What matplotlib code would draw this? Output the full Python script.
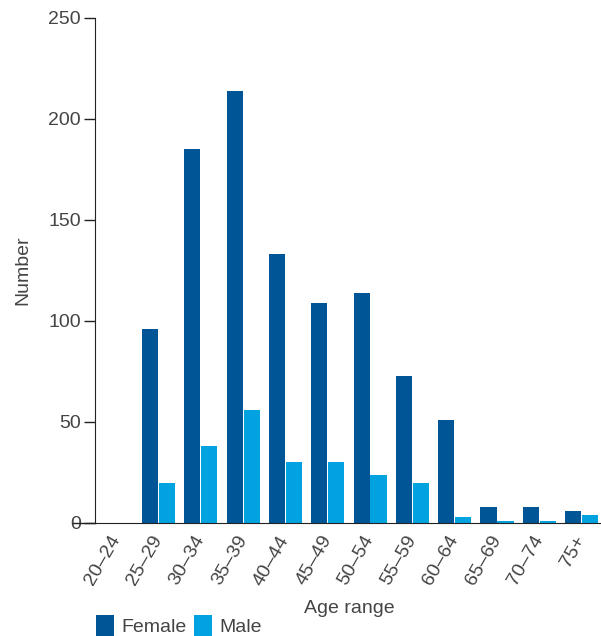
import numpy as np
import matplotlib
matplotlib.use("Agg")
import matplotlib.pyplot as plt

plt.rcParams['font.family'] = ['Liberation Sans', 'DejaVu Sans']

age_ranges = ['20–24', '25–29', '30–34', '35–39', '40–44', '45–49',
              '50–54', '55–59', '60–64', '65–69', '70–74', '75+']
female = [0, 96, 185, 214, 133, 109, 114, 73, 51, 8, 8, 6]
male = [0, 20, 38, 56, 30, 30, 24, 20, 3, 1, 1, 4]

female_color = '#005596'
male_color = '#00a3e0'
text_color = '#444444'
fs = 14

fig = plt.figure(figsize=(6.01, 6.36), dpi=100)
ax = fig.add_axes([0.158, 0.1777, 0.845, 0.794])

x = np.arange(len(age_ranges))
w = 0.38
ax.bar(x - w / 2 - 0.01, female, width=w, color=female_color, label='Female')
ax.bar(x + w / 2 + 0.01, male, width=w, color=male_color, label='Male')

ax.set_xlim(-0.5, 11.5)
ax.set_ylim(0, 250)
ax.set_yticks(range(0, 251, 50))
ax.set_xticks(x)
ax.set_xticklabels(age_ranges, rotation=60, ha='right', va='center',
                   rotation_mode='anchor', fontsize=fs, color=text_color)
ax.tick_params(axis='x', length=0, pad=10)
ax.tick_params(axis='y', length=8, width=1, colors='#222222', labelsize=fs,
               labelcolor=text_color, pad=2)

for s in ['top', 'right']:
    ax.spines[s].set_visible(False)
ax.spines['left'].set_color('#222222')
ax.spines['bottom'].set_color('#222222')
# the baseline runs a little past the y axis
ax.plot([-0.043, 0], [0, 0], transform=ax.transAxes, color='#222222',
        lw=1, clip_on=False)

ax.set_ylabel('Number', fontsize=fs, color=text_color, labelpad=12)
ax.set_xlabel('Age range', fontsize=fs, color=text_color, labelpad=8)

fig.legend(loc='lower left', bbox_to_anchor=(0.13, -0.028), ncol=2,
           frameon=False, fontsize=fs, labelcolor=text_color,
           handlelength=0.95, handleheight=1.3, handletextpad=0.35,
           columnspacing=0.4)

fig.savefig('out.png', dpi=100)
